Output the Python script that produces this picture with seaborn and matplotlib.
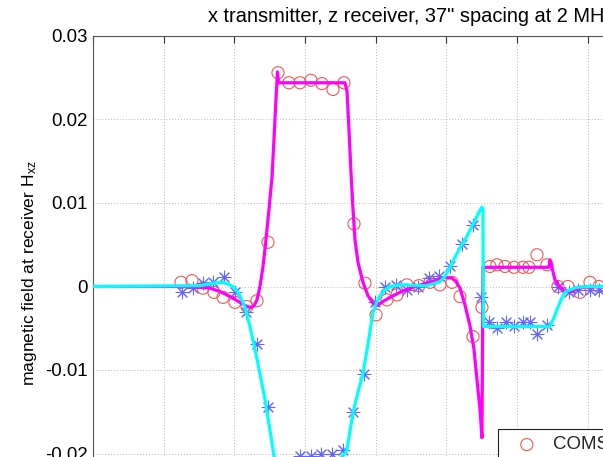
import matplotlib
matplotlib.use("Agg")
import matplotlib.pyplot as plt
import seaborn as sns
import numpy as np

# ---- data (x in arbitrary position units, gridlines every 10) ----
comsol_real_x = [12.45, 14.00, 15.56, 17.11, 18.39, 20.08, 21.78, 23.20, 24.75, 26.17,
                 27.72, 29.28, 30.83, 32.39, 33.95, 35.50, 36.92, 38.47, 40.03, 41.58,
                 43.00, 44.41, 46.11, 47.67, 49.08, 50.78, 51.91, 53.75, 55.02, 56.15,
                 57.14, 58.27, 59.55, 60.82, 61.67, 62.80, 64.21, 65.77, 67.19, 68.88,
                 70.30, 71.57]
comsol_real_y = [0.0005, 0.0007, -0.0002, -0.0007, -0.0013, -0.0019, -0.0024, -0.0017, 0.0053, 0.0256,
                 0.0244, 0.0244, 0.0247, 0.0243, 0.0236, 0.0244, 0.0075, 0.0004, -0.0034, -0.0016,
                 -0.0010, 0.0002, 0.0001, 0.0005, 0.0002, 0.0005, -0.0012, -0.0060, -0.0025, 0.0024,
                 0.0026, 0.0024, 0.0023, 0.0023, 0.0023, 0.0038, 0.0026, 0.0000, 0.0000, -0.0007,
                 0.0005, 0.0000]

comsol_imag_x = [12.59, 14.14, 15.56, 16.97, 18.53, 20.08, 21.64, 23.20, 24.75, 26.31,
                 27.72, 29.28, 30.83, 32.25, 33.80, 35.36, 36.78, 38.33, 39.89, 41.30,
                 42.86, 44.41, 45.97, 47.52, 48.94, 50.50, 52.19, 53.75, 54.88, 56.01,
                 57.14, 58.42, 59.55, 60.82, 61.81, 62.80, 64.21, 65.77, 67.33, 68.60,
                 70.30, 71.57]
comsol_imag_y = [-0.0007, -0.0002, 0.0004, 0.0005, 0.0011, -0.0006, -0.0031, -0.0069, -0.0144, -0.0232,
                 -0.0226, -0.0203, -0.0203, -0.0201, -0.0201, -0.0196, -0.0150, -0.0105, -0.0019, 0.0000,
                 0.0002, -0.0004, 0.0000, 0.0010, 0.0012, 0.0025, 0.0051, 0.0074, -0.0013, -0.0043,
                 -0.0050, -0.0043, -0.0047, -0.0043, -0.0043, -0.0057, -0.0046, 0.0000, -0.0007, -0.0004,
                 -0.0004, -0.0004]

analytic_real_x = [0, 13.72, 15.13, 16.55, 17.96, 19.38, 20.79, 21.78, 22.35, 22.77,
                   23.20, 23.62, 24.05, 24.47, 24.89, 25.32, 25.60, 25.88, 26.10, 26.24,
                   35.64, 35.93, 36.21, 36.49, 36.78, 37.06, 37.48, 38.19, 38.90, 39.60,
                   40.17, 41.02, 42.01, 43.42, 44.84, 47.24, 49.79, 50.78, 51.34, 51.91,
                   52.62, 53.32, 53.89, 54.31, 54.74, 55.02, 55.16, 64.50, 64.64, 64.92,
                   65.35, 66.05, 66.76, 67.47, 69.31, 71.71, 89.4]
analytic_real_y = [0, 0, -0.0001, -0.0002, -0.0006, -0.0012, -0.0019, -0.0024, -0.0025, -0.0023,
                   -0.0016, 0.0, 0.0024, 0.0056, 0.0092, 0.0131, 0.0176, 0.0224, 0.0257, 0.0244,
                   0.0244, 0.0234, 0.0188, 0.0137, 0.0092, 0.0056, 0.0029, 0.0005, -0.0011, -0.0020,
                   -0.0023, -0.0018, -0.0013, -0.0007, -0.0002, 0.0004, 0.0011, 0.0010, 0.0006, -0.0002,
                   -0.0022, -0.0047, -0.0075, -0.0111, -0.0147, -0.0181, 0.0023, 0.0023, 0.0032, 0.0023,
                   0.0008, -0.0001, -0.0006, -0.0006, -0.0001, 0.0, 0.0]

analytic_imag_x = [0, 15.13, 16.97, 18.39, 19.38, 20.08, 20.79, 21.50, 22.21, 23.20,
                   24.33, 25.46, 26.03, 26.59, 27.44, 28.57, 29.70, 34.23, 35.08, 35.64,
                   35.93, 36.78, 37.48, 38.19, 38.90, 39.60, 40.17, 40.59, 41.30, 42.01,
                   43.42, 44.41, 45.83, 47.24, 48.37, 49.08, 49.79, 50.50, 51.20, 51.91,
                   52.62, 53.32, 54.03, 54.60, 55.02, 55.16, 55.23, 64.64, 65.07, 65.63,
                   66.20, 66.76, 67.47, 68.46, 70.30, 89.4]
analytic_imag_y = [0, 0.0001, 0.0004, 0.0005, 0.0002, -0.0002, -0.0011, -0.0025, -0.0048, -0.0087,
                   -0.0135, -0.0195, -0.0225, -0.0238, -0.0236, -0.0216, -0.0209, -0.0208, -0.0205, -0.0200,
                   -0.0195, -0.0151, -0.0127, -0.0104, -0.0069, -0.0031, -0.0018, -0.0011, -0.0004, 0.0,
                   0.0002, 0.0002, 0.0001, 0.0001, 0.0004, 0.0006, 0.0012, 0.0023, 0.0035, 0.0046,
                   0.0056, 0.0067, 0.0079, 0.0089, 0.0095, 0.0093, -0.0048, -0.0048, -0.0040, -0.0028,
                   -0.0016, -0.0007, -0.0004, -0.0001, 0.0, 0.0]

y_ticks = [-0.02, -0.01, 0, 0.01, 0.02, 0.03]
y_tick_labels = ["-0.02", "-0.01", "0", "0.01", "0.02", "0.03"]
x_ticks = [0, 10, 20, 30, 40, 50, 60, 70, 80]

title_text = 'x transmitter, z receiver, 37" spacing at 2 MHz'
ylabel_text = r'magnetic field at receiver H$_{\mathrm{xz}}$'
legend_labels = ["COMSOL, real part", "COMSOL, imaginary part",
                 "analytic, real part", "analytic, imaginary part"]

# ---- style ----
sns.set_theme(style="white")
plt.rcParams["font.family"] = ["Liberation Sans", "DejaVu Sans"]
plt.rcParams["mathtext.fontset"] = "custom"
plt.rcParams["mathtext.rm"] = "Liberation Sans"
plt.rcParams["mathtext.it"] = "Liberation Sans"

W, H = 603, 457
fig = plt.figure(figsize=(W / 100, H / 100), dpi=100)
fig.patch.set_facecolor("white")
ax = fig.add_axes([93 / W, (H - 537) / H, 632 / W, 501 / H])
ax.set_facecolor("white")

sns.scatterplot(x=comsol_real_x, y=comsol_real_y, ax=ax, marker="o", s=76,
                facecolors="none", edgecolor="#ef5a52", linewidth=0.8,
                label=legend_labels[0], zorder=2)
sns.scatterplot(x=comsol_imag_x, y=comsol_imag_y, ax=ax, marker=(8, 2, 0), s=84,
                color="#6464ff", linewidth=0.75, label=legend_labels[1], zorder=2)
sns.lineplot(x=analytic_real_x, y=analytic_real_y, ax=ax, sort=False, estimator=None,
             color="#ff00ff", linewidth=2.3, label=legend_labels[2], zorder=3)
sns.lineplot(x=analytic_imag_x, y=analytic_imag_y, ax=ax, sort=False, estimator=None,
             color="#00ffff", linewidth=2.3, label=legend_labels[3], zorder=4)

ax.set_xlim(0, 89.4)
ax.set_ylim(-0.03, 0.03)
ax.set_yticks(y_ticks)
ax.set_yticklabels(y_tick_labels)
ax.set_xticks(x_ticks)
ax.tick_params(axis="both", direction="in", length=5, width=0.8, color="#333333",
               top=True, right=True, labelsize=13.4, pad=4, labelcolor="black")
ax.tick_params(axis="x", labelbottom=False)
ax.grid(True, linestyle=(0, (1, 2)), color="#b8b8b8", linewidth=0.7)
for sp in ax.spines.values():
    sp.set_color("#555555")
    sp.set_linewidth(0.8)

ax.set_ylabel(ylabel_text, fontsize=12.6, color="black")
ax.yaxis.set_label_coords(39 / W, 1 - 273 / H, transform=fig.transFigure)

fig.text(208 / W, 1 - 16 / H, title_text, ha="left", va="center", fontsize=14.45, color="black")

handles, labels = ax.get_legend_handles_labels()
leg = ax.legend(handles, labels, loc="upper left",
                bbox_to_anchor=(498 / W, 1 - 429 / H), bbox_transform=fig.transFigure,
                borderaxespad=0, fontsize=13.4, frameon=True, fancybox=False,
                edgecolor="#222222", framealpha=1, borderpad=0.4,
                handlelength=2.3, handletextpad=0.25)
leg.get_frame().set_linewidth(0.8)

fig.savefig("out.png", dpi=100)
